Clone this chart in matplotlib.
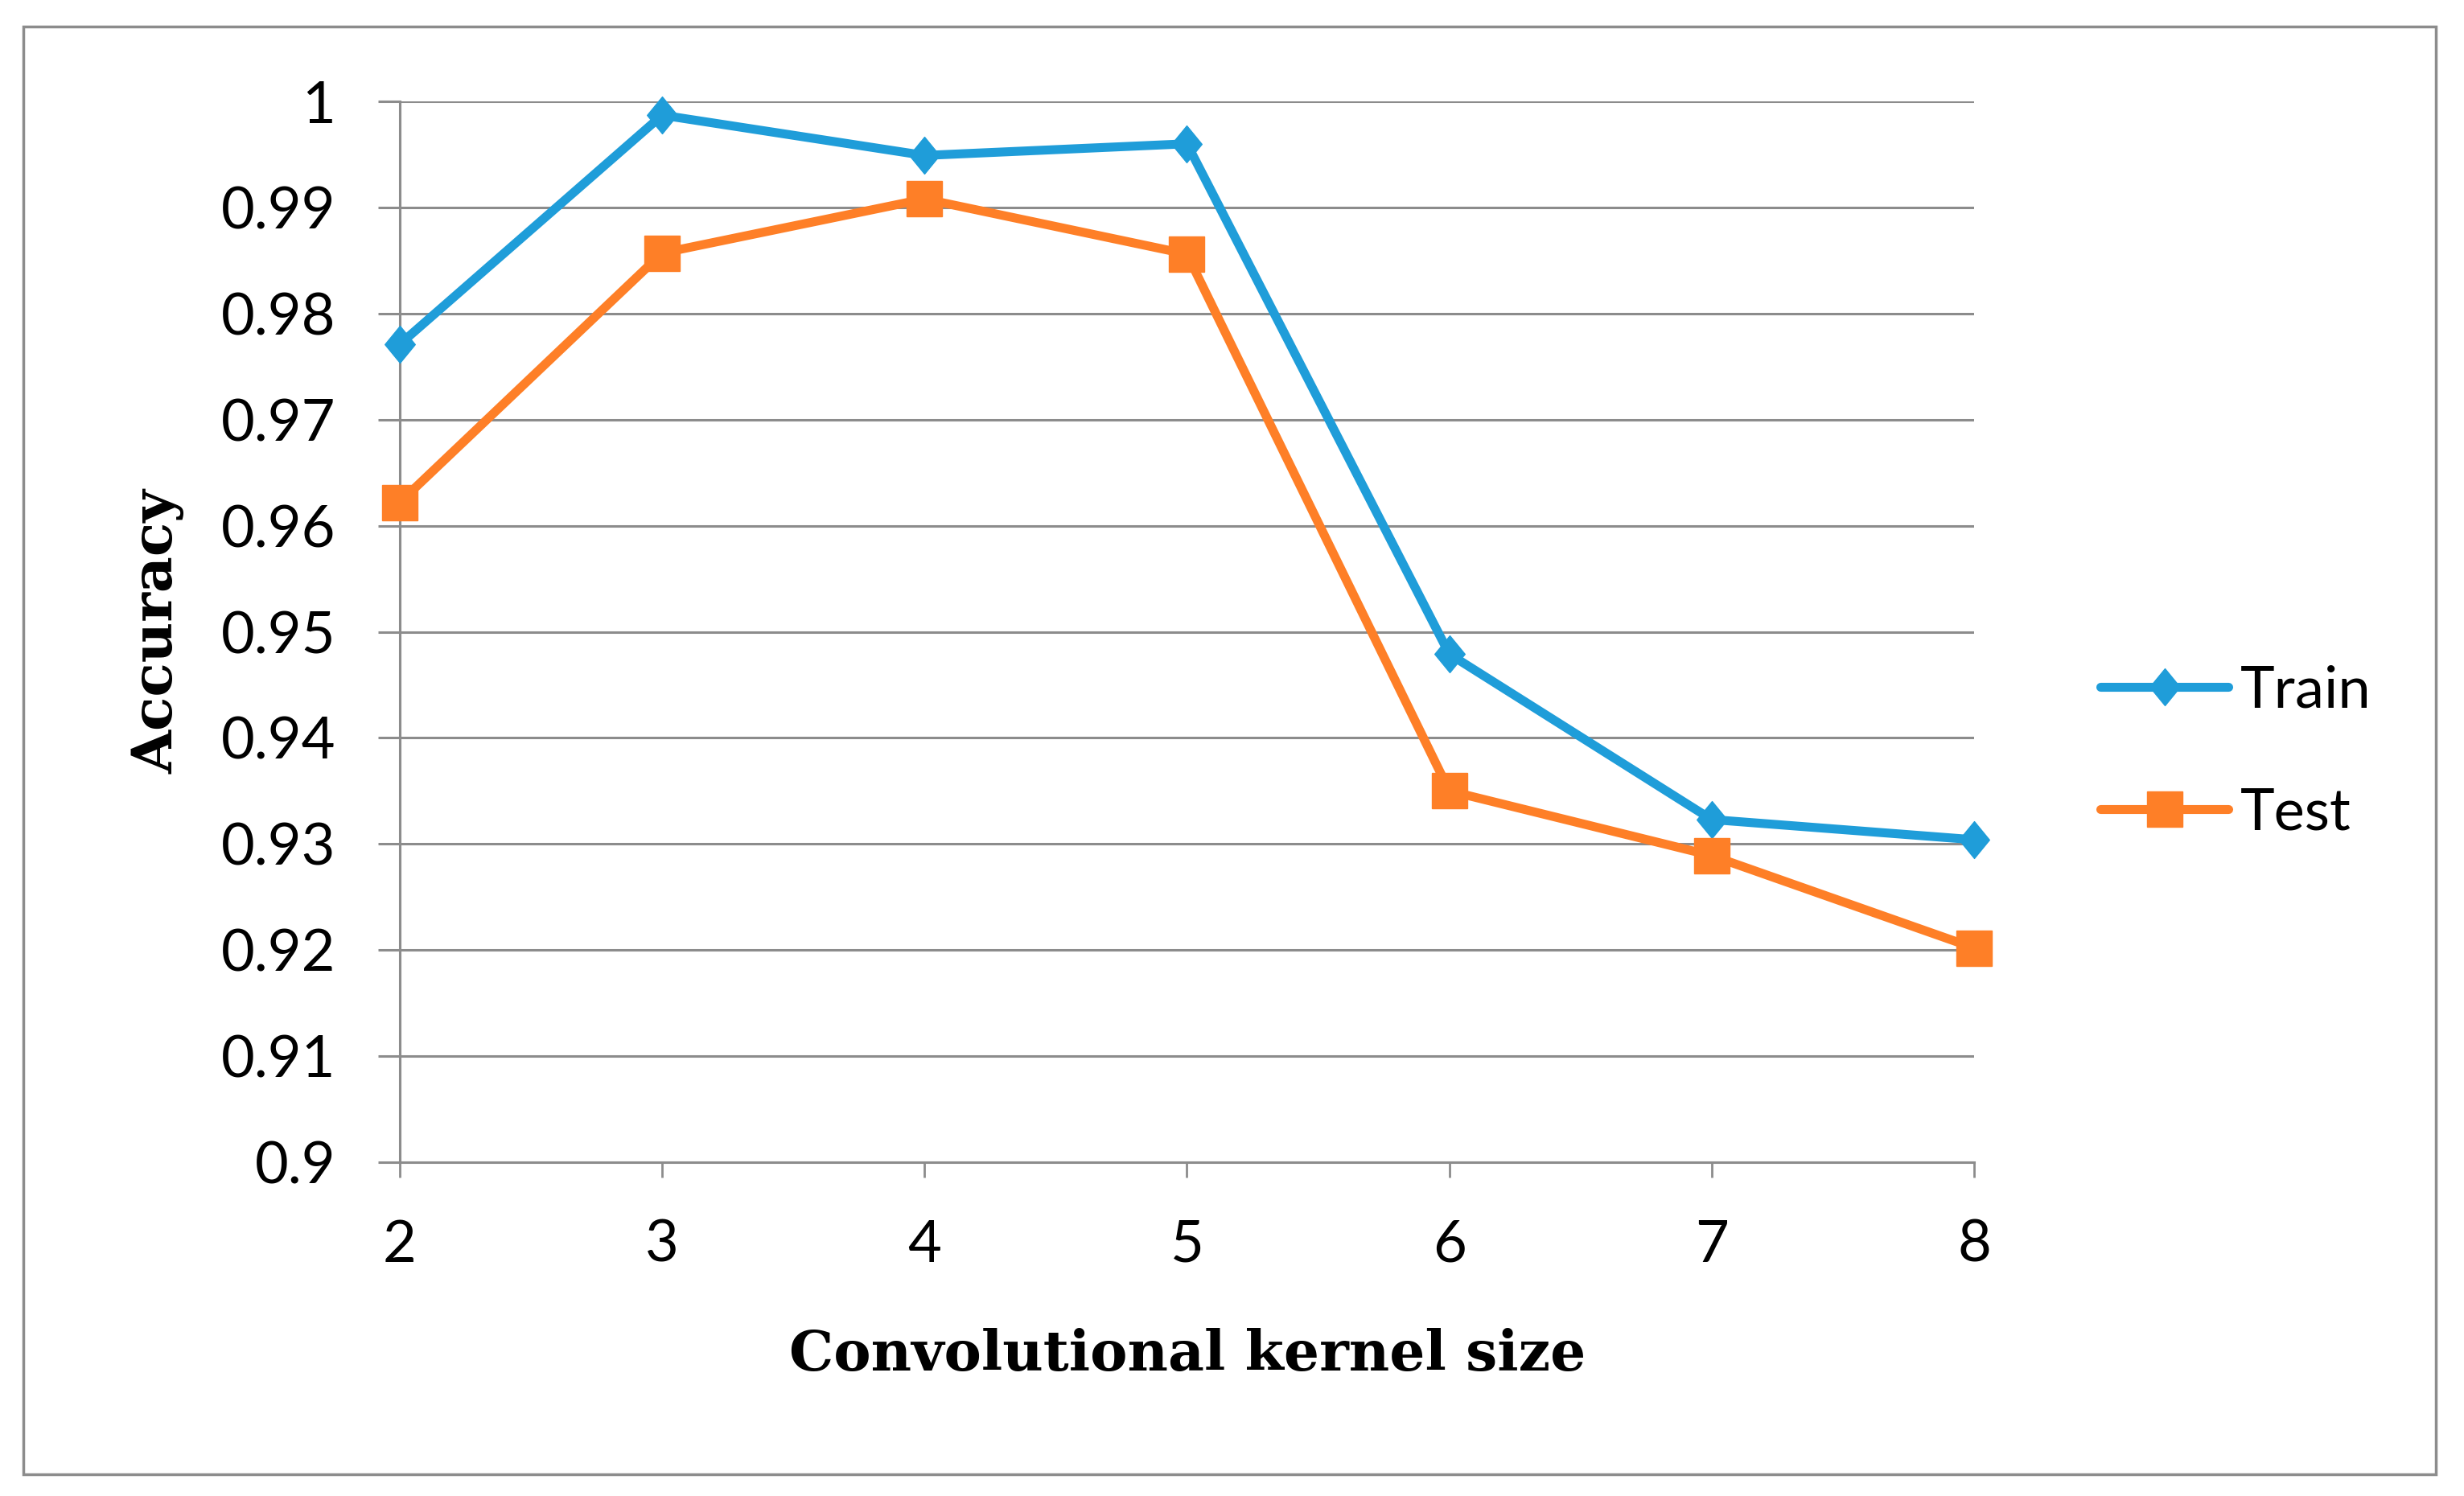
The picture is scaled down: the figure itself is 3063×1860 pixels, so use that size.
import matplotlib
matplotlib.use("Agg")
import matplotlib.pyplot as plt
from matplotlib.patches import Rectangle
from matplotlib.path import Path

kernel_size = [2, 3, 4, 5, 6, 7, 8]
train_acc = [0.9771, 0.9987, 0.9949, 0.9960, 0.9479, 0.9323, 0.9304]
test_acc = [0.9622, 0.9857, 0.9908, 0.9856, 0.9350, 0.9289, 0.9202]
y_ticks = [0.9, 0.91, 0.92, 0.93, 0.94, 0.95, 0.96, 0.97, 0.98, 0.99, 1.0]
y_tick_labels = ["0.9", "0.91", "0.92", "0.93", "0.94", "0.95", "0.96", "0.97", "0.98", "0.99", "1"]

BLUE = "#1F9DD9"
ORANGE = "#FE7F27"
GRAY = "#8C8C8C"
TICK_FONT = "Lato"
LABEL_FONT = "DejaVu Serif"

W, H = 3063, 1860
fig = plt.figure(figsize=(W / 100, H / 100), dpi=100)

# outer border
fig.add_artist(Rectangle((29 / W, 1 - 1833 / H), (3028 - 29) / W, (1833 - 33) / H,
                         transform=fig.transFigure, fill=False, edgecolor=GRAY, linewidth=2.5))

left, right, top, bottom = 497 / W, 2454 / W, 126 / H, 1445 / H
ax = fig.add_axes([left, 1 - bottom, right - left, bottom - top])

diamond = Path([(0, 1), (0.82, 0), (0, -1), (-0.82, 0), (0, 1)],
               [Path.MOVETO, Path.LINETO, Path.LINETO, Path.LINETO, Path.CLOSEPOLY])

ax.plot(kernel_size, train_acc, color=BLUE, lw=8, marker=diamond, ms=33,
        solid_joinstyle="round", solid_capstyle="round", clip_on=False, zorder=5, label="Train")
ax.plot(kernel_size, test_acc, color=ORANGE, lw=8, marker="s", ms=31,
        solid_joinstyle="round", solid_capstyle="round", clip_on=False, zorder=6, label="Test")

ax.set_xlim(2, 8)
ax.set_ylim(0.9, 1.0)
ax.set_xticks(kernel_size)
ax.set_xticklabels([str(k) for k in kernel_size])
ax.set_yticks(y_ticks)
ax.set_yticklabels(y_tick_labels)

ax.grid(axis="y", color=GRAY, linewidth=2.2)
ax.set_axisbelow(True)
for s in ["top", "right"]:
    ax.spines[s].set_visible(False)
ax.spines["left"].set_color(GRAY)
ax.spines["left"].set_linewidth(2.2)
ax.spines["bottom"].set_color(GRAY)
ax.spines["bottom"].set_linewidth(2.2)

ax.tick_params(axis="x", direction="out", length=14, width=2, color=GRAY, pad=37)
ax.tick_params(axis="y", direction="out", length=19.5, width=2.2, color=GRAY, pad=38)
for lab in ax.get_xticklabels() + ax.get_yticklabels():
    lab.set_fontfamily(TICK_FONT)
    lab.set_fontsize(52)
    lab.set_color("black")

fig.text(1476 / W, 1 - 1684 / H, "Convolutional kernel size", family=LABEL_FONT,
         fontweight="bold", fontsize=50, ha="center", va="center")
fig.text(196 / W, 1 - 785 / H, "Accuracy", family=LABEL_FONT, fontweight="bold",
         fontsize=50, ha="center", va="center", rotation=90)

leg = fig.legend(loc="center left", bbox_to_anchor=(2575 / W, 1 - 935 / H), frameon=False,
                 prop={"family": TICK_FONT, "size": 52}, handlelength=2.2,
                 handletextpad=0.2, labelspacing=1.2, borderpad=0)

fig.savefig("out.png", dpi=100)
